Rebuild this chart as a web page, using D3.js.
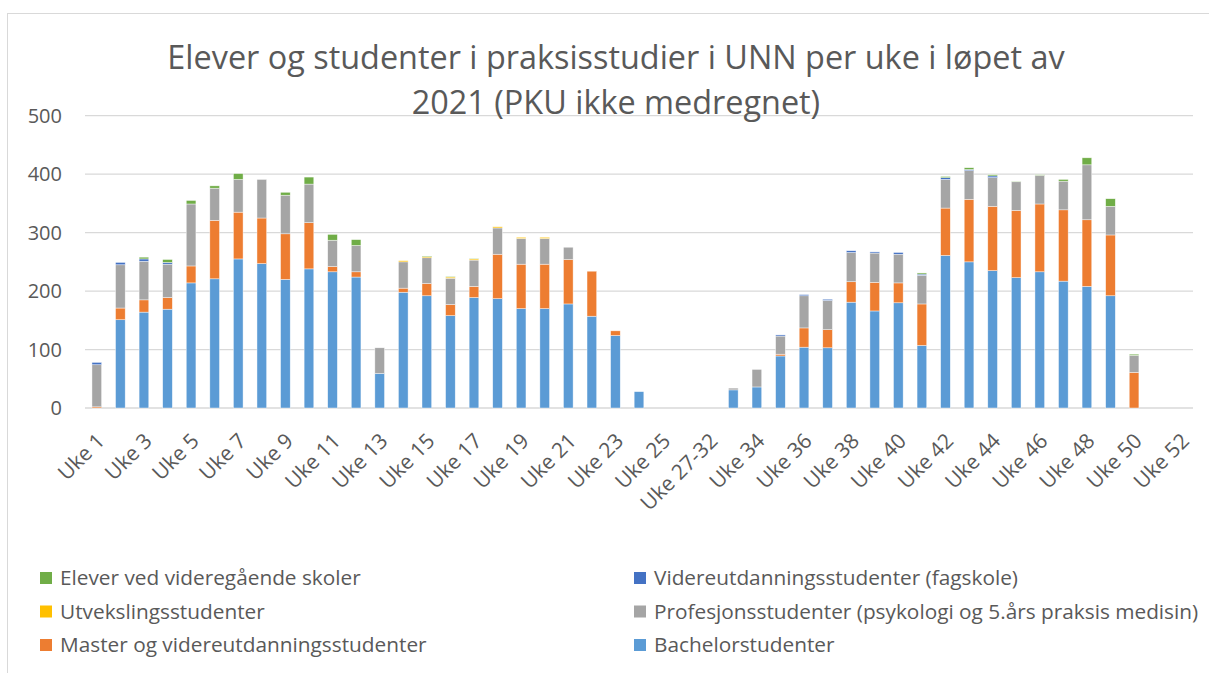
<!DOCTYPE html>
<html>
<head>
<meta charset="utf-8">
<script src="https://cdn.jsdelivr.net/npm/d3@7"></script>
<style>
  body { margin: 0; background: #fff; }
  svg { display: block; font-family: "Open Sans", sans-serif; }
</style>
</head>
<body>
<svg id="chart" width="1209" height="673"></svg>
<script>
const categories = [
  "Uke 1", "Uke 2", "Uke 3", "Uke 4", "Uke 5", "Uke 6", "Uke 7", "Uke 8", "Uke 9", "Uke 10",
  "Uke 11", "Uke 12", "Uke 13", "Uke 14", "Uke 15", "Uke 16", "Uke 17", "Uke 18", "Uke 19", "Uke 20",
  "Uke 21", "Uke 22", "Uke 23", "Uke 24", "Uke 25", "Uke 26", "Uke 27-32",
  "Uke 33", "Uke 34", "Uke 35", "Uke 36", "Uke 37", "Uke 38", "Uke 39", "Uke 40", "Uke 41",
  "Uke 42", "Uke 43", "Uke 44", "Uke 45", "Uke 46", "Uke 47", "Uke 48", "Uke 49", "Uke 50",
  "Uke 51", "Uke 52"
];

const bachelor = [0, 151, 164, 169, 214, 221, 255, 247, 220, 238, 233, 224, 59, 198, 192, 158, 189, 187, 170, 170,
  178, 157, 124, 28, 0, 0, 0, 31, 36, 89, 104, 103, 181, 166, 180, 107, 261, 250, 235, 223, 233, 217, 208, 192, 0, 0, 0];
const master = [2, 20, 21, 20, 29, 100, 80, 78, 78, 79, 9, 9, 0, 7, 21, 19, 19, 76, 76, 76,
  76, 77, 8, 0, 0, 0, 0, 0, 0, 3, 33, 31, 35, 49, 34, 71, 81, 107, 110, 115, 116, 122, 114, 104, 61, 0, 0];
const profesjon = [72, 74, 66, 57, 106, 55, 56, 66, 66, 66, 45, 45, 44, 45, 44, 45, 45, 45, 44, 44,
  21, 0, 0, 0, 0, 0, 0, 3, 30, 31, 55, 50, 50, 50, 49, 49, 49, 49, 49, 49, 49, 49, 94, 49, 29, 0, 0];
const utveksling = [0, 0, 0, 0, 0, 0, 0, 0, 0, 0, 0, 0, 0, 2, 2, 2, 2, 2, 2, 2,
  0, 0, 0, 0, 0, 0, 0, 0, 0, 0, 0, 0, 0, 0, 0, 0, 0, 0, 0, 0, 0, 0, 0, 0, 0, 0, 0];
const fagskole = [4, 4, 4, 3, 0, 0, 0, 0, 0, 0, 0, 0, 0, 0, 0, 0, 0, 0, 0, 0,
  0, 0, 0, 0, 0, 0, 0, 0, 0, 2, 2, 2, 3, 2, 3, 2, 3, 2, 3, 0, 0, 0, 0, 0, 0, 0, 0];
const elever = [0, 0, 3, 5, 6, 4, 10, 0, 5, 12, 10, 10, 0, 0, 1, 1, 1, 0, 0, 0,
  0, 0, 0, 0, 0, 0, 0, 0, 0, 0, 0, 0, 0, 0, 0, 2, 2, 3, 2, 1, 1, 3, 12, 13, 2, 0, 0];

const seriesNames = [
  "Bachelorstudenter",
  "Master og videreutdanningsstudenter",
  "Profesjonsstudenter (psykologi og 5.års praksis medisin)",
  "Utvekslingsstudenter",
  "Videreutdanningsstudenter (fagskole)",
  "Elever ved videregående skoler"
];
const seriesValues = [bachelor, master, profesjon, utveksling, fagskole, elever];
const colors = ["#5B9BD5", "#ED7D31", "#A5A5A5", "#FFC000", "#4472C4", "#70AD47"];
const yTicks = [0, 100, 200, 300, 400, 500];

const title1 = "Elever og studenter i praksisstudier i UNN per uke i løpet av";
const title2 = "2021 (PKU ikke medregnet)";

const textColor = "#595959";
const svg = d3.select("#chart");

// chart frame
svg.append("rect")
  .attr("x", 7.5).attr("y", 13.5)
  .attr("width", 1230).attr("height", 700)
  .attr("fill", "#fff").attr("stroke", "#D9D9D9").attr("stroke-width", 1);

const plotLeft = 85, plotRight = 1193, plotTop = 115.7, plotBottom = 408;

const x = d3.scaleBand().domain(categories).range([plotLeft, plotRight])
  .paddingInner(0.59).paddingOuter(0.295);
const y = d3.scaleLinear().domain([0, 500]).range([plotBottom, plotTop]);

// gridlines
svg.append("g")
  .selectAll("line")
  .data(yTicks)
  .join("line")
  .attr("x1", plotLeft).attr("x2", plotRight)
  .attr("y1", d => y(d)).attr("y2", d => y(d))
  .attr("stroke", "#D9D9D9").attr("stroke-width", 1.3);

// y axis labels
svg.append("g")
  .selectAll("text")
  .data(yTicks)
  .join("text")
  .attr("x", 62).attr("y", d => y(d))
  .attr("dy", "0.35em")
  .attr("text-anchor", "end")
  .attr("fill", textColor)
  .style("font-size", "20px")
  .text(d => d);

// stacked bars
const table = categories.map((c, i) => {
  const row = { cat: c };
  seriesNames.forEach((s, j) => row[s] = seriesValues[j][i]);
  return row;
});
const stack = d3.stack().keys(seriesNames)(table);

svg.append("g")
  .selectAll("g")
  .data(stack)
  .join("g")
  .attr("fill", (d, i) => colors[i])
  .selectAll("rect")
  .data(d => d.filter(p => p[1] - p[0] > 0))
  .join("rect")
  .attr("x", d => x(d.data.cat))
  .attr("width", x.bandwidth())
  .attr("y", d => y(d[1]))
  .attr("height", d => y(d[0]) - y(d[1]))
  .attr("stroke", "#fff").attr("stroke-width", 0.6).attr("stroke-opacity", 0.7);

// x axis labels, every other category
svg.append("g")
  .selectAll("text")
  .data(categories.filter((c, i) => i % 2 === 0))
  .join("text")
  .attr("transform", d => `translate(${x(d) + x.bandwidth() / 2 + 4},${plotBottom + 29}) rotate(-45)`)
  .attr("text-anchor", "end")
  .attr("dy", "0.35em")
  .attr("fill", textColor)
  .style("font-size", "21px")
  .text(d => d);

// title
svg.append("text")
  .attr("x", 616).attr("y", 69)
  .attr("text-anchor", "middle")
  .attr("fill", textColor)
  .style("font-size", "32.4px")
  .text(title1);
svg.append("text")
  .attr("x", 616).attr("y", 114)
  .attr("text-anchor", "middle")
  .attr("fill", textColor)
  .style("font-size", "32.4px")
  .text(title2);

// legend, Excel order (reversed series), two columns
const legendOrder = [5, 4, 3, 2, 1, 0];
const legend = svg.append("g")
  .selectAll("g")
  .data(legendOrder)
  .join("g")
  .attr("transform", (d, i) => `translate(${i % 2 === 0 ? 40 : 634},${578 + Math.floor(i / 2) * 33.5})`);

legend.append("rect")
  .attr("x", 0).attr("y", -6)
  .attr("width", 12).attr("height", 12)
  .attr("fill", d => colors[d]);

legend.append("text")
  .attr("x", 20).attr("y", 0)
  .attr("dy", "0.35em")
  .attr("fill", textColor)
  .style("font-size", "20.8px")
  .text(d => seriesNames[d]);
</script>
</body>
</html>
